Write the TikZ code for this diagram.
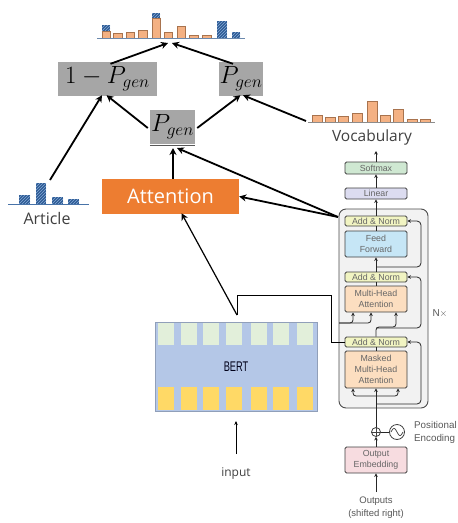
\documentclass[tikz,border=0pt]{standalone}
\usepackage{fontspec}
\setmainfont{Open Sans}
\newfontfamily\tfont{Liberation Sans}
\usetikzlibrary{arrows.meta,patterns}
\definecolor{boxgray}{HTML}{A6A6A6}
\definecolor{attorange}{HTML}{ED7D31}
\definecolor{barorange}{HTML}{F4B183}
\definecolor{baredge}{HTML}{A8734E}
\definecolor{hatchfill}{HTML}{2E5B94}
\definecolor{hatchline}{HTML}{86ABD8}
\definecolor{bertblue}{HTML}{B4C7E7}
\definecolor{bertgreen}{HTML}{E2EFDA}
\definecolor{bertyellow}{HTML}{FFD966}
\definecolor{smgreen}{HTML}{CFE8D2}
\definecolor{linlav}{HTML}{DCDCF0}
\definecolor{anyellow}{HTML}{F1F4C2}
\definecolor{ffblue}{HTML}{C6E6F6}
\definecolor{mhaorange}{HTML}{FCDEC0}
\definecolor{embpink}{HTML}{F7DCE0}
\definecolor{panelgray}{HTML}{F2F2F2}
\newcommand\Obar[4]{\draw[obarst] (#1,#4) rectangle (#2,#3);}
\newcommand\Hbar[4]{\fill[hatchfill] (#1,#4) rectangle (#2,#3);
  \fill[pattern=north east lines, pattern color=hatchline] (#1,#4) rectangle (#2,#3);}
\begin{document}
\begin{tikzpicture}[x=1pt,y=-1pt,
  obarst/.style={fill=barorange,draw=baredge,line width=0.8pt},
  gbox/.style={fill=boxgray,inner sep=0,minimum height=34pt,font=\fontsize{23}{23}\selectfont},
  bigarrow/.style={line width=1.8pt,-{Stealth[length=7pt,width=7pt]}},
  tarrow/.style={draw=black!85,line width=0.8pt,-{Stealth[length=3.5pt,width=3.5pt]}},
  tline/.style={draw=black!85,line width=0.8pt},
  tbox/.style={draw=black!75,line width=0.9pt,rounded corners=1.5pt,minimum width=62pt,inner sep=0,
    font=\tfont\fontsize{8.8}{10.8}\selectfont,text=black!60,align=center},
  gtext/.style={text=black!75,inner sep=0},
  celltop/.style={fill=bertgreen},
  cellbot/.style={fill=bertyellow}]
\useasboundingbox (0,0) rectangle (458,523);
\clip (0,0) rectangle (458,523);
\fill[white] (0,0) rectangle (458,523);

% ---------- top histogram ----------
\Hbar{102}{110}{25}{31} \Obar{102}{110}{31}{38}
\Obar{113}{122}{33}{38}
\Obar{126}{134}{32}{38}
\Obar{138}{147}{30}{38}
\Hbar{152}{160}{13}{18} \Obar{152}{160}{18}{38}
\Obar{164}{172}{32}{38}
\Obar{177}{185}{26}{38}
\Obar{189}{198}{35}{38}
\Obar{202}{211}{35}{38}
\Hbar{217}{227}{21}{38}
\Hbar{232}{240}{32}{38}
\draw[line width=1pt,color=hatchline!80!black] (97,38) -- (245,38);
\coordinate (th1) at (168,43);
\coordinate (th2) at (172,43);

% ---------- vocabulary histogram ----------
\Obar{312}{322}{115}{122}
\Obar{325}{335}{117}{122}
\Obar{338}{348}{116}{122}
\Obar{352}{362}{113}{122}
\Obar{367}{377}{101}{122}
\Obar{380}{390}{115}{122}
\Obar{393}{403}{109}{122}
\Obar{407}{417}{119}{122}
\Obar{420}{430}{119}{122}
\draw[line width=1pt,black!45] (308,122.5) -- (435,122.5);
\coordinate (vh) at (306,121);
\node[gtext,font=\fontsize{15.5}{16}\selectfont] (vocab) at (372,137) {Vocabulary};

% ---------- article histogram ----------
\Hbar{19}{30}{195}{204}
\Hbar{36}{46}{183}{204}
\Hbar{52}{63}{197}{204}
\Hbar{68}{79}{199}{204}
\draw[line width=1pt,color=hatchfill!70!hatchline] (8,204) -- (89,204);
\coordinate (ah) at (50,180);
\node[gtext,font=\fontsize{16}{16}\selectfont] (article) at (47,218) {Article};

% ---------- P_gen boxes ----------
\node[gbox,minimum width=99pt] (omp) at (107.5,79) {$1-P_{gen}$};
\node[gbox,minimum width=44pt] (pr) at (241,79) {$P_{gen}$};
\node[gbox,minimum width=45pt] (pm) at (172.5,127) {$P_{gen}$};
\draw[line width=0.8pt,black!65] (pm.south west) ++(0,1.5) -- ++(45,0);

% ---------- attention ----------
\node[fill=attorange,text=white,inner sep=0,minimum width=137pt,minimum height=35pt,
  font=\fontsize{20}{20}\selectfont] (att) at (170.5,196.5) {Attention};

% ---------- BERT ----------
\node[fill=bertblue,draw=bertblue!80!black,line width=0.4pt,inner sep=0,
  minimum width=162pt,minimum height=89pt] (bert) at (236,366.5) {};
\foreach \a/\b in {158/174,181/197,203/219,226/242,251/267,273/289,297/313}{
  \fill[celltop] (\a,323) rectangle (\b,345);
  \fill[cellbot] (\a,387) rectangle (\b,410);
}
\node[font=\tfont\fontsize{14}{14}\selectfont,text=black!80!blue!50!black] (berttxt) at (236,367)
  {\scalebox{0.66}[1]{BERT}};
\node[gtext,font=\fontsize{12}{12}\selectfont] (inp) at (236,474) {input};
\draw[line width=0.7pt,-{Stealth[length=4pt,width=3.5pt]}] (236,454) -- (236,421);
\coordinate (bt) at (237,315);

% ---------- transformer decoder ----------
\node[fill=panelgray,draw=black!70,line width=0.9pt,rounded corners=7pt,inner sep=0,
  minimum width=89pt,minimum height=199pt] (panel) at (383.5,308.5) {};
\node[tbox,fill=smgreen,minimum height=12pt] (softmax) at (376,168) {Softmax};
\node[tbox,fill=linlav,minimum height=11pt] (linear) at (376,193.5) {Linear};
\node[tbox,fill=anyellow,minimum height=10pt] (an3) at (376,221) {Add \& Norm};
\node[tbox,fill=ffblue,minimum height=26pt] (ff) at (376,244) {Feed\\Forward};
\node[tbox,fill=anyellow,minimum height=10pt] (an2) at (376,277) {Add \& Norm};
\node[tbox,fill=mhaorange,minimum height=26pt] (mha) at (376,299) {Multi-Head\\Attention};
\node[tbox,fill=anyellow,minimum height=10pt] (an1) at (376,342) {Add \& Norm};
\node[tbox,fill=mhaorange,minimum height=37pt] (mmha) at (376,369.5) {Masked\\Multi-Head\\Attention};
\node[tbox,fill=embpink,minimum height=26pt] (oemb) at (376,460) {Output\\Embedding};
\node[draw=black!75,line width=0.8pt,circle,inner sep=0,minimum size=9pt] (plus) at (376,432) {};
\draw[black!75,line width=0.7pt] (plus.north) -- (plus.south) (plus.west) -- (plus.east);
\node[draw=black!75,line width=0.8pt,circle,inner sep=0,minimum size=15pt] (pe) at (397,432) {};
\draw[black!75,line width=0.7pt] plot[domain=-6:6,samples=40,smooth] ({397+\x},{432+3.5*sin(\x*30)});
\draw[tline] (plus.east) -- (pe.west);
\node[gtext,text=black!65,anchor=west,font=\tfont\fontsize{9.8}{12.5}\selectfont,align=left]
  (petxt) at (414,432.5) {Positional\\Encoding};
\node[gtext,text=black!65,font=\tfont\fontsize{10}{10}\selectfont] (nx) at (440,313) {N$\times$};
\node[gtext,text=black!65,font=\tfont\fontsize{9.5}{13.5}\selectfont,align=center]
  (outs) at (376,507.5) {Outputs\\(shifted right)};

% decoder flow
\coordinate (outtop) at (376,151);
\draw[tarrow] (376,492) -- (oemb.south);
\draw[tarrow] (oemb.north) -- (plus.south);
\draw[tarrow] (plus.north) -- (mmha.south);
\draw[tarrow,rounded corners=3pt] (376,396) -| (353,388.5);
\draw[tarrow,rounded corners=3pt] (376,396) -| (398,388.5);
\draw[tarrow,rounded corners=4pt] (376,404) -| (421,342) -- (an1.east);
\draw[tline] (mmha.north) -- (an1.south);
\draw[tarrow,rounded corners=3pt] (an1.north) |- (396,327) -- (mha.south -| 396,0);
\draw[tarrow,rounded corners=3pt] (339,323) -| (353,312.5);
\draw[tarrow,rounded corners=3pt] (339,323) -| (371,312.5);
\draw[tarrow,rounded corners=4pt] (376,328) -| (421,277) -- (an2.east);
\draw[tline] (mha.north) -- (an2.south);
\draw[tarrow] (an2.north) -- (ff.south);
\draw[tarrow,rounded corners=4pt] (376,267) -| (421,221) -- (an3.east);
\draw[tline] (ff.north) -- (an3.south);
\draw[tarrow] (an3.north) -- (linear.south);
\draw[tarrow] (linear.north) -- (softmax.south);
\draw[tarrow] (softmax.north) -- (outtop);

% BERT polyline into decoder
\draw[line width=1pt] (bt) -- (237,295) -- (331,295) -- (331,342) -- (an1.west);

% ---------- big arrows ----------
\coordinate (dec) at (338,217);
\draw[bigarrow] (ah) -- ([xshift=-5.5pt,yshift=1pt]omp.south);
\draw[bigarrow] ([xshift=-2pt,yshift=-1pt]pm.west) -- ([xshift=-1pt,yshift=1pt]omp.south);
\draw[bigarrow] ([xshift=2pt,yshift=-1pt]pm.east) -- ([xshift=-0.5pt,yshift=1pt]pr.south);
\draw[bigarrow] (vh) -- ([xshift=2pt,yshift=1pt]pr.south);
\draw[bigarrow] ([xshift=3pt,yshift=-2pt]omp.north) -- (th1);
\draw[bigarrow] ([xshift=-8pt,yshift=-2pt]pr.north) -- (th2);
\draw[bigarrow] (att.north -| 173,0) -- (173,148);
\draw[bigarrow] (dec) -- (177,148);
\draw[bigarrow] (dec) -- (att.east);
\draw[line width=1.2pt,-{Stealth[length=7pt,width=7pt]}] (bt) -- ([xshift=11pt,yshift=1pt]att.south);
\end{tikzpicture}
\end{document}
